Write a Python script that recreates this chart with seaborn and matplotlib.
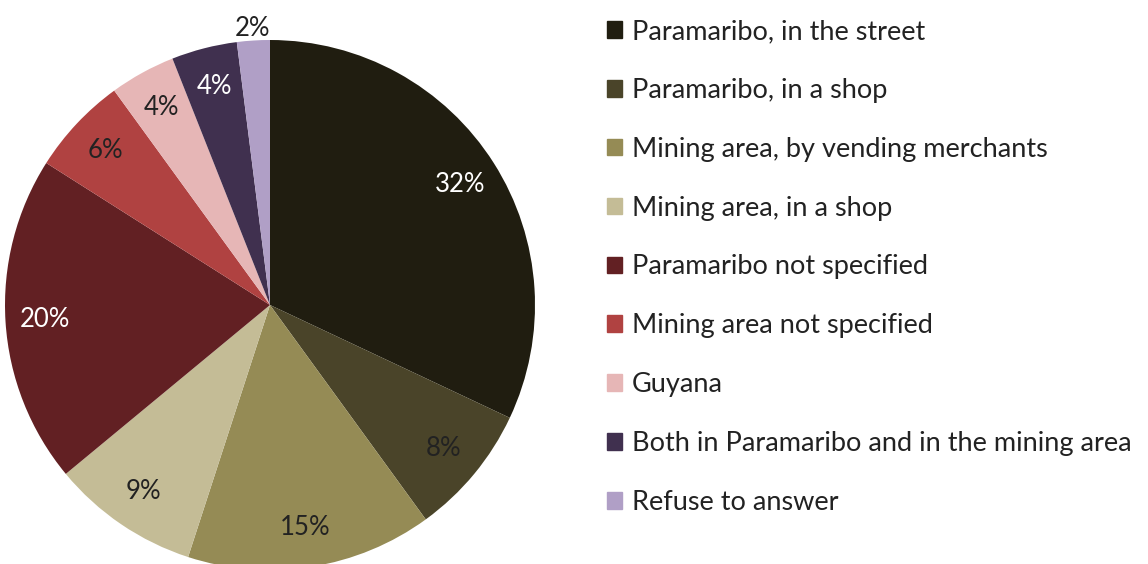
import matplotlib
matplotlib.use("Agg")
import matplotlib.pyplot as plt
import matplotlib.patches as mpatches
import seaborn as sns

# data
categories = [
    "Paramaribo, in the street",
    "Paramaribo, in a shop",
    "Mining area, by vending merchants",
    "Mining area, in a shop",
    "Paramaribo not specified",
    "Mining area not specified",
    "Guyana",
    "Both in Paramaribo and in the mining area",
    "Refuse to answer",
]
shares = [32, 8, 15, 9, 20, 6, 4, 4, 2]
hex_colors = ["#201d10", "#4a4429", "#958b55", "#c4bc96", "#622023",
              "#b04241", "#e6b6b6", "#40304f", "#b09fc6"]
label_colors = ["white", "#222222", "#222222", "#222222", "white",
                "#222222", "#222222", "white", "#222222"]

sns.set_theme(style="white")
plt.rcParams['font.family'] = ['Lato', 'DejaVu Sans']
palette = sns.color_palette(hex_colors)

W, H = 1148, 564
fig = plt.figure(figsize=(W / 100, H / 100), dpi=100)

# pie: centre (270, 305) px, radius 265 px
cx, cy, r = 270, 305, 265
ax = fig.add_axes([(cx - r) / W, (H - cy - r) / H, 2 * r / W, 2 * r / H])
wedges, texts, autotexts = ax.pie(
    shares, colors=palette, startangle=90, counterclock=False,
    autopct=lambda p: f"{p:.0f}%", pctdistance=0.85,
    wedgeprops=dict(linewidth=0), textprops=dict(fontsize=18.5),
)
for t, c in zip(autotexts, label_colors):
    t.set_color(c)
# the smallest slice has its label outside the pie
x2, y2 = autotexts[-1].get_position()
autotexts[-1].set_position((x2 * 1.23, y2 * 1.23))
ax.set_xlim(-1, 1)
ax.set_ylim(-1, 1)
ax.axis('off')

handles = [mpatches.Patch(color=c, label=l) for c, l in zip(palette, categories)]
fig.legend(handles=handles, loc='upper left',
           bbox_to_anchor=(607 / W, 1 - 19 / H), frameon=False,
           fontsize=19.5, labelcolor='#222222', borderpad=0, borderaxespad=0,
           handlelength=0.56, handleheight=0.56, handletextpad=0.35,
           labelspacing=1.25)

fig.savefig("out.png", dpi=100)
